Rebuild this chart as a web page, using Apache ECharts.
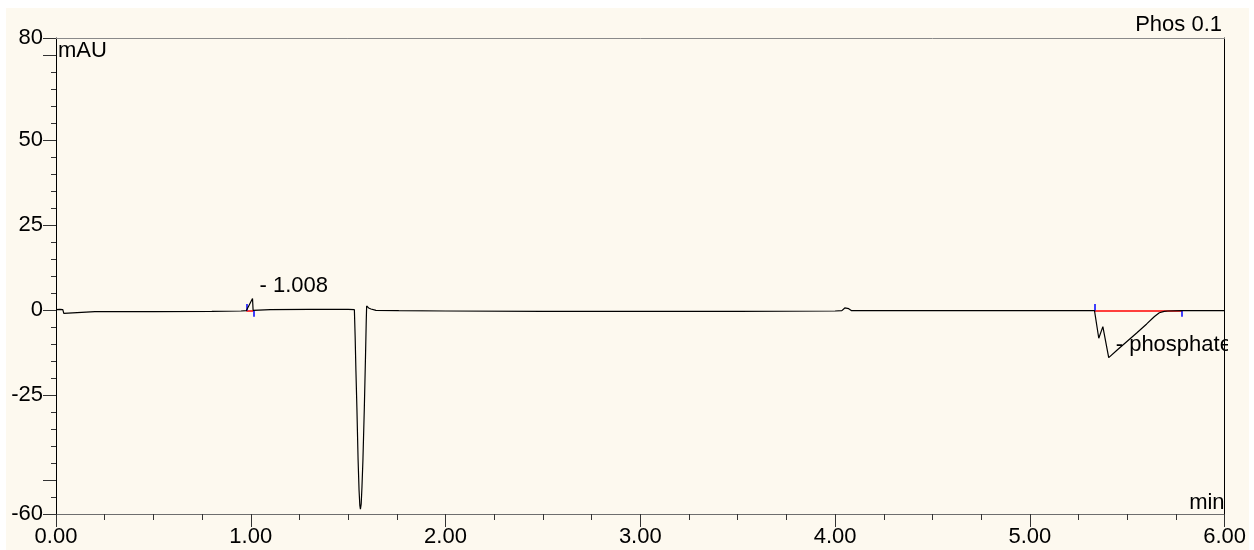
<!DOCTYPE html>
<html>
<head>
<meta charset="utf-8">
<script src="https://cdn.jsdelivr.net/npm/echarts@6/dist/echarts.min.js"></script>
<style>
  html, body { margin: 0; padding: 0; background: #ffffff; }
  #chart { position: absolute; left: 6px; top: 8px; width: 1243px; height: 542px; background: #fdf9ef; }
</style>
</head>
<body>
<div id="chart"></div>
<script>
// Chromatogram trace (minutes, mAU)
const times = [
    0, 0.02, 0.035, 0.04, 0.05, 0.2, 0.5, 0.8, 0.95, 0.977,
    1.009, 1.012, 1.1, 1.3, 1.5, 1.532, 1.536, 1.540, 1.545, 1.551,
    1.556, 1.560, 1.563, 1.567, 1.571, 1.576, 1.583, 1.589, 1.593, 1.595,
    1.600, 1.605, 1.617, 1.643, 1.76, 2.0, 2.5, 3.0, 3.5, 4.0,
    4.035, 4.05, 4.06, 4.07, 4.085, 4.3, 4.8, 5.2, 5.332, 5.340,
    5.354, 5.375, 5.405, 5.45, 5.50, 5.55, 5.60, 5.64, 5.665, 5.69,
    5.708, 5.78, 6.0
];
const signal = [
    0.1, 0.2, 0.1, -1.0, -0.5, -0.5, -0.5, -0.4, -0.3, -0.2,
    3.4, -0.1, 0.1, 0.2, 0.2, 0.1, -8, -18, -29, -44,
    -53, -57.5, -58.6, -57, -52, -44, -29, -14, -3, 1.2,
    1.0, 0.6, 0.3, -0.1, -0.2, -0.3, -0.4, -0.4, -0.4, -0.3,
    -0.2, 0.6, 0.9, 0.4, -0.2, -0.2, -0.2, -0.2, -0.2, -0.3,
    -8.3, -4.9, -14.0, -11.7, -9.2, -6.7, -4.1, -1.9, -0.8, -0.4,
    -0.3, -0.2, -0.2
];

// Integrated peaks
const peakNames = ['1.008', 'phosphate'];
const peakApexTime = [1.009, 5.405];
const peakApexValue = [3.4, -14.0];
const peakStartTime = [0.977, 5.332];
const peakEndTime = [1.014, 5.781];
const peakBaseline = [-0.2, -0.2];

// Axis ticks
const yLabelValues = [-60, -25, 0, 25, 50, 80];
const yTickValues = [-60, -50, -25, 0, 25, 50, 75, 80];

const FONT = 'Liberation Sans, Arial, sans-serif';

const chart = echarts.init(document.getElementById('chart'), null, { renderer: 'canvas' });

const traceData = times.map((t, i) => [t, signal[i]]);
const apexData = peakApexTime.map((t, i) => ({ value: [t, peakApexValue[i]], name: peakNames[i] }));

// baseline (red) and start/end markers (blue)
const markLines = [];
peakStartTime.forEach((s, i) => {
    const b = peakBaseline[i];
    const e = peakEndTime[i];
    markLines.push([{ coord: [s, b], lineStyle: { color: '#ff0000', width: 1.5, type: 'solid' } }, { coord: [e, b] }]);
    markLines.push([{ coord: [s, b], lineStyle: { color: '#0000ff', width: 1.5, type: 'solid' } }, { coord: [s, b + 2] }]);
    markLines.push([{ coord: [e, b], lineStyle: { color: '#0000ff', width: 1.5, type: 'solid' } }, { coord: [e, b - 1.8] }]);
});

const option = {
    animation: false,
    textStyle: { fontFamily: FONT },
    title: {
        text: 'Phos 0.1',
        right: 27,
        top: 6,
        padding: 0,
        textStyle: { fontFamily: FONT, fontSize: 22, fontWeight: 'normal', color: '#000' }
    },
    grid: { left: 50, top: 30, right: 22, bottom: 36, containLabel: false },
    xAxis: [{
        type: 'value',
        min: 0,
        max: 6,
        interval: 1,
        name: 'min',
        nameLocation: 'end',
        nameGap: 0,
        nameMoveOverlap: false,
        nameTextStyle: { fontFamily: FONT, fontSize: 22, color: '#000', align: 'right', verticalAlign: 'bottom' },
        axisLine: { show: true, onZero: false, lineStyle: { color: '#6e6e6e', width: 1 } },
        axisTick: { show: true, length: 13, lineStyle: { color: '#333', width: 1 } },
        minorTick: { show: true, splitNumber: 4, length: 6, lineStyle: { color: '#333', width: 1 } },
        axisLabel: {
            fontFamily: FONT, fontSize: 22, color: '#000', margin: 12,
            formatter: v => v.toFixed(2)
        },
        splitLine: { show: false }
    }, {
        type: 'value',
        position: 'top',
        min: 0,
        max: 6,
        axisLine: { show: true, onZero: false, lineStyle: { color: '#8a8a8a', width: 1 } },
        axisTick: { show: false },
        axisLabel: { show: false },
        splitLine: { show: false }
    }],
    yAxis: [{
        type: 'value',
        min: -60,
        max: 80,
        name: 'mAU',
        nameLocation: 'end',
        nameGap: -2,
        nameMoveOverlap: false,
        nameTextStyle: { fontFamily: FONT, fontSize: 22, color: '#000', align: 'left', verticalAlign: 'top', padding: [0, 0, 0, 2] },
        axisLine: { show: true, onZero: false, lineStyle: { color: '#000', width: 1 } },
        axisTick: { show: true, length: 13, customValues: yTickValues, lineStyle: { color: '#333', width: 1 } },
        axisLabel: { fontFamily: FONT, fontSize: 22, color: '#000', margin: 13, customValues: yLabelValues },
        splitLine: { show: false }
    }, {
        type: 'value',
        min: -60,
        max: 80,
        interval: 5,
        position: 'left',
        axisLine: { show: false, onZero: false },
        axisTick: { show: true, length: 5, lineStyle: { color: '#333', width: 1 } },
        axisLabel: { show: false },
        splitLine: { show: false }
    }, {
        type: 'value',
        min: -60,
        max: 80,
        position: 'right',
        axisLine: { show: true, onZero: false, lineStyle: { color: '#000', width: 1 } },
        axisTick: { show: false },
        axisLabel: { show: false },
        splitLine: { show: false }
    }],
    series: [{
        type: 'line',
        name: 'trace',
        data: traceData,
        showSymbol: false,
        symbol: 'none',
        clip: true,
        lineStyle: { color: '#000', width: 1.2 },
        markLine: {
            silent: true,
            symbol: ['none', 'none'],
            label: { show: false },
            data: markLines,
            z: 3
        },
        z: 4
    }, {
        type: 'scatter',
        name: 'peaks',
        data: apexData,
        symbolSize: 0,
        silent: true,
        label: {
            show: true,
            position: 'right',
            distance: 0,
            offset: [7, -13],
            align: 'left',
            verticalAlign: 'middle',
            fontFamily: FONT,
            fontSize: 22,
            color: '#000',
            opacity: 1,
            textBorderWidth: 0,
            formatter: p => '- ' + p.name
        },
        z: 5
    }],
    // hides the part of peak labels that runs past the right frame
    graphic: [{
        type: 'rect',
        shape: { x: 1222, y: 320, width: 21, height: 45 },
        style: { fill: '#fdf9ef' },
        z: 100
    }]
};

chart.setOption(option);

window.addEventListener('resize', function () {
    chart.resize();
});
</script>
</body>
</html>
